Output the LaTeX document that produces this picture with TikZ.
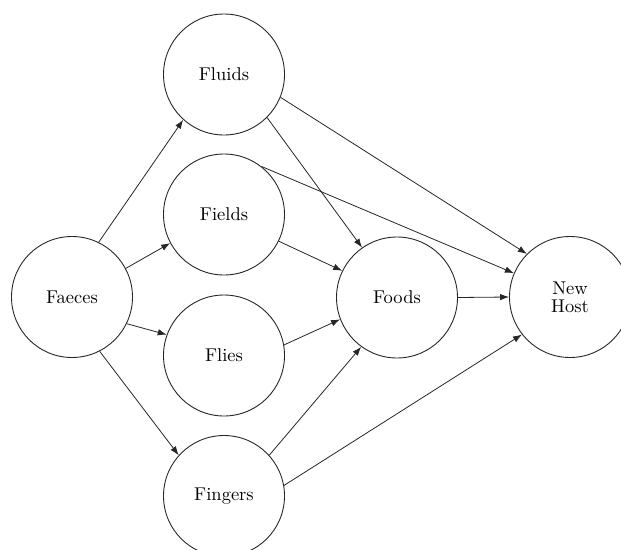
\documentclass[tikz,border=0pt]{standalone}
\usepackage{fontspec}
\newfontfamily\lmten{lmroman10-regular.otf}
\usetikzlibrary{arrows.meta}
\begin{document}
\begin{tikzpicture}[x=1pt,y=1pt,
  stage/.style={circle,draw=black!85,line width=0.9pt,minimum size=121pt,inner sep=0pt,
     font=\lmten\fontsize{18.5}{18}\selectfont,align=center},
  link/.style={draw=black!85,line width=0.8pt,-{Latex[length=9pt,width=6.5pt]}}]
\useasboundingbox (0,0) rectangle (621,-549);
\node[stage] (faeces) at (72,-297) {Faeces};
\node[stage] (fluids) at (224,-74.5) {Fluids};
\node[stage] (fields) at (224,-214.5) {Fields};
\node[stage] (flies) at (224,-355.5) {Flies};
\node[stage] (fingers) at (224,-496) {Fingers};
\node[stage] (foods) at (397,-297.5) {Foods};
\node[stage] (host) at (570,-297) {New\\Host};
\draw[link] (faeces.64.7) -- (fluids.228.5);
\draw[link] (faeces.28.6) -- (fields.208);
\draw[link] (faeces.-26) -- (flies.160);
\draw[link] (faeces.-63) -- (fingers.138);
\draw[link] (fluids.-45) -- (foods.125.5);
\draw[link] (fluids.-22) -- (host.135);
\draw[link] (fields.52.8) -- (host.157.5);
\draw[link] (fields.-26) -- (foods.154);
\draw[link] (flies.10.7) -- (foods.201.5);
\draw[link] (fingers.42.4) -- (foods.234.7);
\draw[link] (fingers.10) -- (host.218);
\draw[link] (foods.0) -- (host.180);
\end{tikzpicture}
\end{document}
